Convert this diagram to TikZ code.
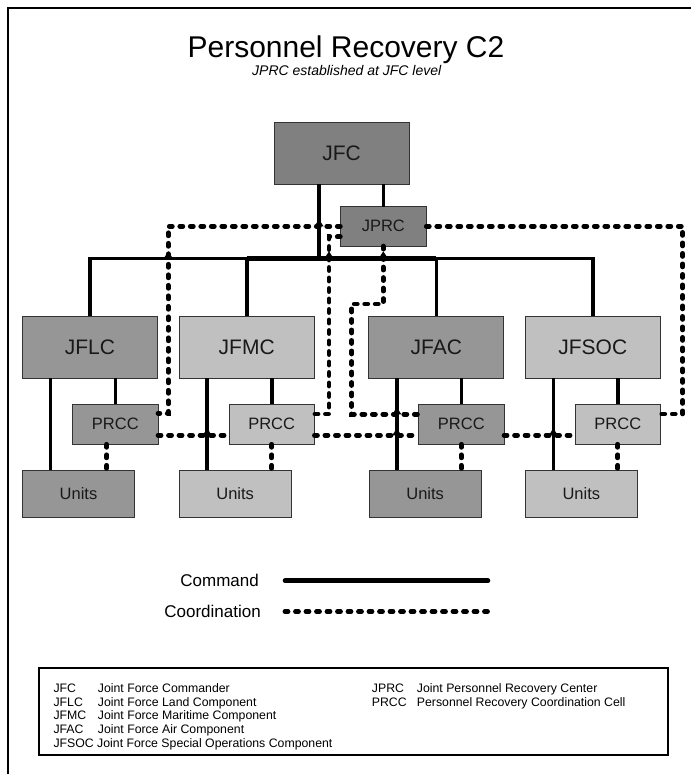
\documentclass[tikz,border=0pt]{standalone}
\usepackage{fontspec}
\setmainfont{Liberation Sans}
\usetikzlibrary{calc}
\definecolor{gA}{HTML}{808080}
\definecolor{gB}{HTML}{969696}
\definecolor{gC}{HTML}{C0C0C0}
\begin{document}
\begin{tikzpicture}[x=1pt,y=-1pt,
  box/.style={draw=black!80, line width=0.9pt, inner sep=0pt, outer sep=0pt, text=black!90},
  compbox/.style={box, minimum width=135pt, minimum height=62pt, font=\fontsize{21}{25}\selectfont},
  cellbox/.style={box, minimum width=85.5pt, minimum height=40pt, font=\fontsize{16.5}{20}\selectfont},
  unitbox/.style={box, minimum width=111.5pt, minimum height=47pt, font=\fontsize{16.5}{20}\selectfont},
  cmdline/.style={line width=3.6pt},
  coordline/.style={line width=4.8pt, dash pattern=on 3pt off 7.5pt, line cap=round},
  legtext/.style={font=\fontsize{17}{20}\selectfont, inner sep=0pt},
  glosstext/.style={font=\fontsize{12.3}{14}\selectfont, inner sep=0pt, anchor=base west},
  bump/.style={fill=black}
]
\useasboundingbox (0,0) rectangle (691,774);
\fill[white] (0,0) rectangle (691,774);
% frame
\draw[line width=2.8pt] (8,774) -- (8,8) -- (691,8);

% title
\node[font=\fontsize{30}{34}\selectfont, inner sep=0pt, anchor=base] (title) at (346,57.5) {Personnel Recovery C2};
\node[font=\itshape\fontsize{14}{16}\selectfont, inner sep=0pt, anchor=base] (subtitle) at (346.7,75) {JPRC established at JFC level};

% boxes
\node[compbox, fill=gA] (JFC) at (341.5,153) {JFC};
\node[cellbox, fill=gA, minimum width=86pt, minimum height=39.5pt] (JPRC) at (383.3,226.3) {JPRC};

\node[compbox, fill=gB] (JFLC) at (90,347) {JFLC};
\node[compbox, fill=gC] (JFMC) at (246.7,347) {JFMC};
\node[compbox, fill=gB] (JFAC) at (436.3,347) {JFAC};
\node[compbox, fill=gC] (JFSOC) at (592.8,347) {JFSOC};

\node[cellbox, fill=gB] (P1) at (115.3,424.3) {PRCC};
\node[cellbox, fill=gC] (P2) at (271.7,424.3) {PRCC};
\node[cellbox, fill=gB] (P3) at (461.3,424.3) {PRCC};
\node[cellbox, fill=gC] (P4) at (617.8,424.3) {PRCC};

\node[unitbox, fill=gB] (U1) at (78.5,493.5) {Units};
\node[unitbox, fill=gC] (U2) at (235.2,493.5) {Units};
\node[unitbox, fill=gB] (U3) at (425.2,493.5) {Units};
\node[unitbox, fill=gC] (U4) at (581.3,493.5) {Units};

% helper coordinates
\coordinate (bus) at (319,258.3);
\coordinate (d1) at ([xshift=28pt]JFLC.south west);
\coordinate (d2) at ([xshift=28pt]JFMC.south west);
\coordinate (d3) at ([xshift=28pt]JFAC.south west);
\coordinate (d4) at ([xshift=28pt]JFSOC.south west);
\coordinate (u1) at ([xshift=-8.6pt]P1.south);
\coordinate (cA) at (168.3,413.3);
\coordinate (cB) at (329,414);
\coordinate (cC1) at (351.7,304);
\coordinate (cC2) at (351.7,414.3);
\coordinate (cD) at (682.7,414);

% coordination lines
\draw[coordline] (u1) -- (u1 |- U1.north);
\draw[coordline] (P2.south) -- (U2.north -| P2.south);
\draw[coordline] (P3.south) -- (U3.north -| P3.south);
\draw[coordline] (P4.south) -- (U4.north -| P4.south);

\draw[coordline] (JPRC.west) -| (cA) -- (cA -| P1.east);
\draw[coordline] ([yshift=-10.5pt]JPRC.west) -| (cB) -- (cB -| P2.east);
\draw[coordline] (JPRC.south) |- (cC1) -- (cC2) -- (cC2 -| P3.west);
\draw[coordline] (JPRC.east) -| (cD) -- (cD -| P4.east);

\draw[coordline] ([yshift=-11pt]P1.east) -- ([yshift=-11pt]P2.west);
\draw[coordline] ([yshift=-11pt]P2.east) -- ([yshift=-11pt]P3.west);
\draw[coordline] ([yshift=-11pt]P3.east) -- ([yshift=-11pt]P4.west);

% command lines
\draw[cmdline] (JFLC.north) |- (bus) -| (JFSOC.north);
\draw[cmdline] (JFMC.north) -- (JFMC.north |- bus);
\draw[cmdline] (JFAC.north) -- (JFAC.north |- bus);
\draw[line width=4.6pt] (JFMC.north |- bus) -- (JFAC.north |- bus);
\draw[line width=4.6pt] (JFC.south -| bus) -- (bus);
\draw[cmdline] (JFC.south -| JPRC.north) -- (JPRC.north);
\draw[cmdline] (JFLC.south -| P1.north) -- (P1.north);
\draw[cmdline] (JFMC.south -| P2.north) -- (P2.north);
\draw[cmdline] (JFAC.south -| P3.north) -- (P3.north);
\draw[cmdline] (JFSOC.south -| P4.north) -- (P4.north);
\draw[cmdline] (d1) -- (d1 |- U1.north);
\draw[cmdline] (d2) -- (d2 |- U2.north);
\draw[cmdline] (d3) -- (d3 |- U3.north);
\draw[cmdline] (d4) -- (d4 |- U4.north);

% crossing bumps
\coordinate (eline) at ([yshift=-11pt]P1.east);
\foreach \c in {{bus |- JPRC.west},{cA |- bus},{cB |- bus},{JPRC.south |- bus},{d2 |- eline},{d3 |- cC2},{d3 |- eline},{d4 |- eline}}{
  \fill[bump] (\c) ++(-4.5,0) -- ++(4.5,-7) -- ++(4.5,7) -- cycle;
}

% legend
\node[legtext, anchor=east] (lcmd) at (259,580.7) {Command};
\node[legtext, anchor=east] (lcoord) at (261,611.7) {Coordination};
\coordinate (lc1) at (285,580.7);
\coordinate (lc2) at (488,580.7);
\coordinate (lk1) at (285,611.7);
\coordinate (lk2) at (488,611.7);
\draw[line width=4.6pt, line cap=round] (lc1) -- (lc2);
\draw[coordline] (lk1) -- (lk2);

% glossary
\draw[line width=2.8pt] (39,668) rectangle (668,755);
\node[glosstext] (g1) at (53.3,692.3) {\makebox[44.4pt][l]{JFC}Joint Force Commander};
\node[glosstext] (g2) at (53.3,706) {\makebox[44.4pt][l]{JFLC}Joint Force Land Component};
\node[glosstext] (g3) at (53.3,719.7) {\makebox[44.4pt][l]{JFMC}Joint Force Maritime Component};
\node[glosstext] (g4) at (53.3,733.3) {\makebox[44.4pt][l]{JFAC}Joint Force Air Component};
\node[glosstext] (g5) at (53.3,747) {JFSOC Joint Force Special Operations Component};
\node[glosstext] (g6) at (371.7,692.3) {\makebox[45pt][l]{JPRC}Joint Personnel Recovery Center};
\node[glosstext] (g7) at (371.7,706) {\makebox[45pt][l]{PRCC}Personnel Recovery Coordination Cell};
\end{tikzpicture}
\end{document}
